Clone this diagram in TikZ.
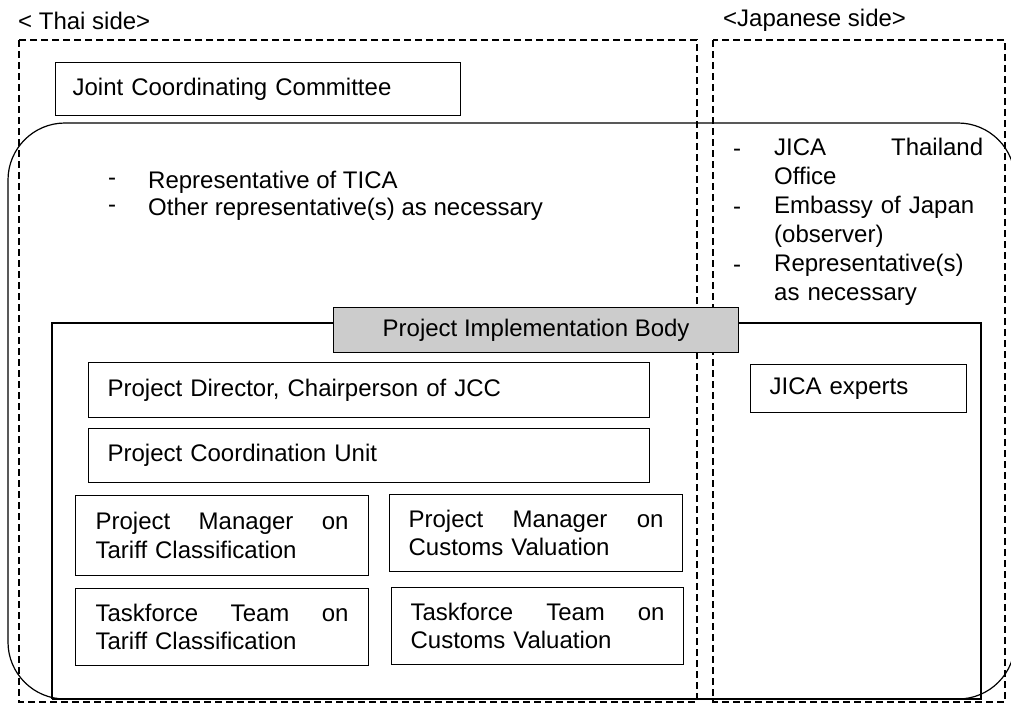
\documentclass[tikz,border=0pt]{standalone}
\usepackage{fontspec}
\setmainfont{Liberation Sans}
\begin{document}
\begin{tikzpicture}[x=1pt,y=-1pt,
  every node/.style={font=\fontsize{24}{28.5}\selectfont},
  side/.style={draw,dashed,line width=1.2pt,dash pattern=on 7pt off 4pt},
  ubox/.style={draw,line width=1.2pt,anchor=north west,align=left,inner ysep=0pt},
  lbl/.style={anchor=west,inner sep=0pt},
  jline/.style={text width=#1,align=left,inner sep=0pt,anchor=north west}
]
\useasboundingbox (0,0) rectangle (1011,704);
% side frames
\draw[side] (19,40) rectangle (697,702);
\draw[side] (713,40) rectangle (1005,702);
\node[lbl] (thai) at (18,21) {< Thai side>};
\node[lbl] (jap) at (723,20) {<Japanese side>};
% JCC
\node[ubox,minimum width=405pt,minimum height=53pt,text width=371pt,inner xsep=17pt] (jcc) at (55,62) {Joint Coordinating Committee};
% rounded committee area
\draw[line width=1.2pt,rounded corners=57pt] (8,123) rectangle (1015,699);
% Thai members
\node[lbl] (d1) at (108,182) {-};
\node[lbl] (t1) at (148,182) {Representative of TICA};
\node[lbl] (d2) at (108,209) {-};
\node[lbl] (t2) at (148,209) {Other representative(s) as necessary};
% Japanese members
\node[lbl] (jd1) at (733,153) {-};
\node[jline=209pt] (jt1) at (774,138) {\hbox to \linewidth{JICA\hfill Thailand}\\Office};
\node[lbl] (jd2) at (733,211) {-};
\node[jline=209pt] (jt2) at (774,196) {Embassy of Japan\\(observer)};
\node[lbl] (jd3) at (733,269) {-};
\node[jline=209pt] (jt3) at (774,254) {Representative(s)\\as necessary};
% project implementation body
\draw[line width=1.2pt] (52,699) -- (52,323) -- (333,323);
\draw[line width=1.2pt] (738,323) -- (981,323) -- (981,699) -- (52,699);
\node[draw,line width=1.2pt,fill=black!20,anchor=north west,minimum width=405pt,minimum height=45pt,inner sep=0pt] (pib) at (333,307) {Project Implementation Body};
\node[ubox,minimum width=561pt,minimum height=55pt,text width=523pt,inner xsep=19pt] (pd) at (88,362) {Project Director, Chairperson of JCC};
\node[ubox,minimum width=561pt,minimum height=54pt,text width=523pt,inner xsep=19pt] (pcu) at (88,428) {Project Coordination Unit};
\node[ubox,minimum width=293pt,minimum height=80pt,text width=253pt,inner xsep=20pt] (pmt) at (75,495) {\hbox to \linewidth{Project\hfill Manager\hfill on}\\Tariff Classification};
\node[ubox,minimum width=293pt,minimum height=77pt,text width=255pt,inner xsep=19pt] (pmc) at (389,494) {\hbox to \linewidth{Project\hfill Manager\hfill on}\\Customs Valuation};
\node[ubox,minimum width=293pt,minimum height=77pt,text width=253pt,inner xsep=20pt] (ttt) at (75,588) {\hbox to \linewidth{Taskforce\hfill Team\hfill on}\\Tariff Classification};
\node[ubox,minimum width=292pt,minimum height=77pt,text width=254pt,inner xsep=19pt] (ttc) at (391,587) {\hbox to \linewidth{Taskforce\hfill Team\hfill on}\\Customs Valuation};
\node[ubox,minimum width=216pt,minimum height=48pt,text width=178pt,inner xsep=19pt] (jex) at (750,364) {JICA experts};
\end{tikzpicture}
\end{document}
